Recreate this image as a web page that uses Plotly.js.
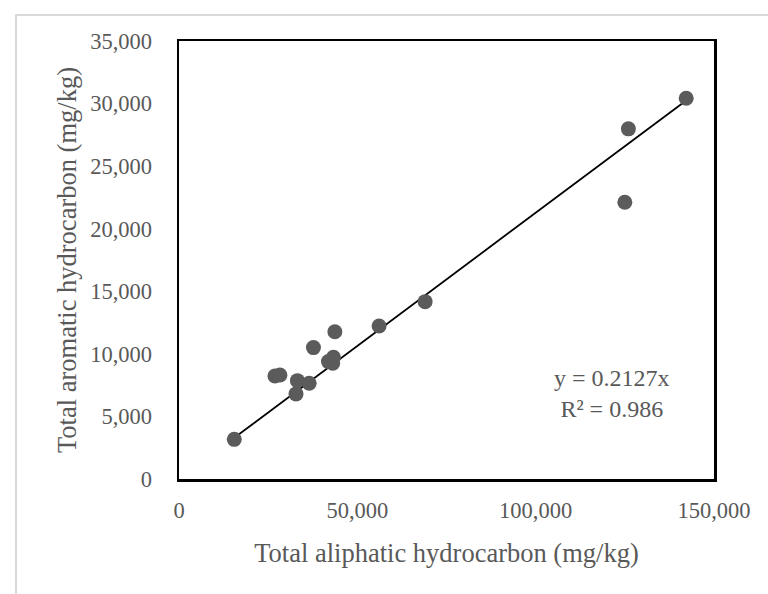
<!DOCTYPE html>
<html>
<head>
<meta charset="utf-8">
<script src="https://cdn.plot.ly/plotly-3.0.1.min.js"></script>
<style>
  html, body { margin: 0; padding: 0; background: #fff; overflow: hidden; }
  #frame { position: absolute; left: 15px; top: 14px; width: 800px; height: 700px; border: 2px solid #d9d9d9; box-sizing: border-box; }
  #chart { position: absolute; left: 0; top: 0; width: 768px; height: 594px; }
</style>
</head>
<body>
<div id="frame"></div>
<div id="chart"></div>
<script>
// Data (mg/kg)
const aliphatic = [15500, 26900, 28300, 32800, 33200, 36500, 37700, 41900, 43100, 43300, 43700, 56100, 69000, 125000, 126000, 142200];
const aromatic  = [3170, 8230, 8310, 6800, 7860, 7650, 10500, 9380, 9250, 9730, 11770, 12230, 14170, 22120, 27980, 30420];
const slope = 0.2127;
const r2 = 0.986;
const xTickVals = [0, 50000, 100000, 150000];
const xTickText = ["0", "50,000", "100,000", "150,000"];
const yTickVals = [0, 5000, 10000, 15000, 20000, 25000, 30000, 35000];
const yTickText = ["0", "5,000", "10,000", "15,000", "20,000", "25,000", "30,000", "35,000"];

const xMin = Math.min(...aliphatic), xMax = Math.max(...aliphatic);
const trendX = [xMin, xMax];
const trendY = trendX.map(v => slope * v);

const gray = "#595959";
const font = "'Liberation Serif', 'Times New Roman', serif";

const traces = [
  { x: trendX, y: trendY, type: "scatter", mode: "lines", line: { color: "#000", width: 1.8 }, hoverinfo: "skip" },
  { x: aliphatic, y: aromatic, type: "scatter", mode: "markers", marker: { color: "#5b5b5b", size: 15 } }
];

const layout = {
  width: 768, height: 594,
  paper_bgcolor: "rgba(0,0,0,0)", plot_bgcolor: "#fff",
  showlegend: false,
  margin: { l: 179, r: 54, t: 41, b: 115 },
  font: { family: font, color: gray, size: 22 },
  xaxis: {
    range: [0, 150000], tickvals: xTickVals, ticktext: xTickText,
    showgrid: false, zeroline: false,
    showline: true, mirror: true, linecolor: "#000", linewidth: 2.5,
    ticks: "outside", ticklen: 9, tickcolor: "rgba(0,0,0,0)",
    tickfont: { family: font, color: gray, size: 22.5 },
    title: { text: "Total aliphatic hydrocarbon (mg/kg)", font: { family: font, color: gray, size: 26.5 }, standoff: 22 }
  },
  yaxis: {
    range: [0, 35000], tickvals: yTickVals, ticktext: yTickText,
    showgrid: false, zeroline: false,
    showline: true, mirror: true, linecolor: "#000", linewidth: 2.5,
    ticks: "outside", ticklen: 20, tickcolor: "rgba(0,0,0,0)",
    tickfont: { family: font, color: gray, size: 22.5 },
    title: { text: "Total aromatic hydrocarbon (mg/kg)", font: { family: font, color: gray, size: 26.5 }, standoff: 6 }
  },
  annotations: [
    { x: 121300, y: 6850, xref: "x", yref: "y", showarrow: false, align: "center",
      text: "y = " + slope + "x<br>R² = " + r2, font: { family: font, color: gray, size: 24 } }
  ]
};

Plotly.newPlot("chart", traces, layout, { displayModeBar: false, staticPlot: true });
</script>
</body>
</html>
